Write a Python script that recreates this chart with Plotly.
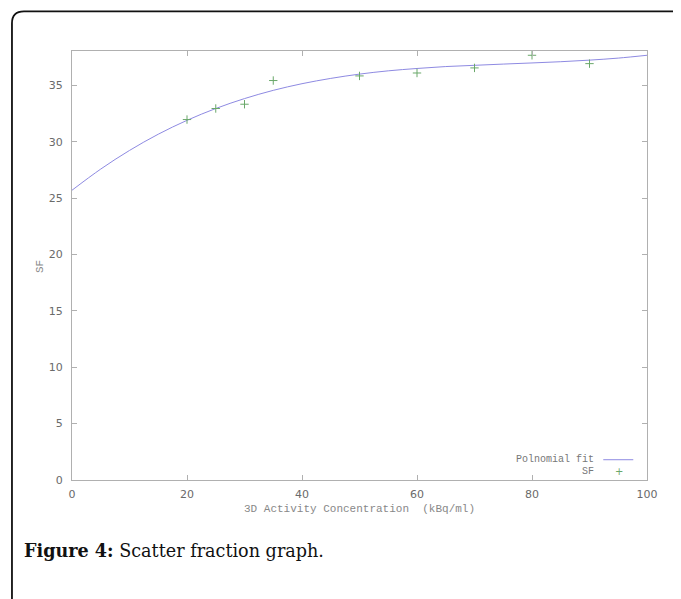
import plotly.graph_objects as go

# ---- data ----
sf_x = [20, 25, 30, 35, 50, 60, 70, 80, 90]
sf_y = [31.97, 32.95, 33.33, 35.43, 35.84, 36.1, 36.55, 37.67, 36.93]

fit_x = [0, 5, 10, 15, 20, 25, 30, 35, 40, 45, 50, 55, 60, 65, 70, 75, 80, 85, 90, 95, 100]
fit_y = [25.7, 27.58, 29.23, 30.67, 31.9, 32.95, 33.83, 34.56, 35.15, 35.62, 36.0,
         36.29, 36.5, 36.67, 36.78, 36.89, 36.99, 37.1, 37.24, 37.42, 37.67]

x_ticks = [0, 20, 40, 60, 80, 100]
y_ticks = [0, 5, 10, 15, 20, 25, 30, 35]

x_title = "3D Activity Concentration  (kBq/ml)"
y_title = "SF"
legend_fit = "Polnomial fit"
legend_sf = "SF"
caption_bold = "Figure 4:"
caption_rest = " Scatter fraction graph."

OFF = 8  # default page body margin
W, H = 681 - OFF, 599 - OFF
L, T, R, B = 72, 50.7, 646.7, 480.3  # plot area in window pixels

def px(x):
    return (x - L) / (R - L)

def py(y):
    return (B - y) / (B - T)

LINE_C = "#8e8ae2"
PT_C = "#6aa86a"
AX_C = "#b0b0b0"
TXT_C = "#6a6a6a"

fig = go.Figure()
fig.add_trace(go.Scatter(x=fit_x, y=fit_y, mode="lines", line=dict(color=LINE_C, width=1, shape="spline"),
                         name=legend_fit, showlegend=False))
fig.add_trace(go.Scatter(x=sf_x, y=sf_y, mode="markers",
                         marker=dict(symbol="cross-thin", size=6, line=dict(color=PT_C, width=1), color=PT_C),
                         name=legend_sf, showlegend=False))

axis_common = dict(showgrid=False, zeroline=False, showline=True, linecolor=AX_C, linewidth=1.3,
                   mirror="ticks", ticks="inside", ticklen=5, tickcolor=AX_C,
                   tickfont=dict(family="DejaVu Sans", size=11, color=TXT_C))

fig.update_layout(
    width=W, height=H,
    margin=dict(l=L - OFF, r=681 - R, t=T - OFF, b=599 - B, pad=0),
    paper_bgcolor="white", plot_bgcolor="white",
    xaxis=dict(range=[0, 100], tickvals=x_ticks, ticklabelstandoff=4, **axis_common),
    yaxis=dict(range=[0, 38.05], tickvals=y_ticks, ticklabelstandoff=6, **axis_common),
    showlegend=False,
)

mono = "Liberation Mono"
ann = []
ann.append(dict(x=0.5, y=py(509), xref="paper", yref="paper", text=x_title, showarrow=False,
                font=dict(family=mono, size=11, color="#888888"), xanchor="center", yanchor="middle"))
ann.append(dict(x=px(40), y=py(266), xref="paper", yref="paper", text=y_title, showarrow=False, textangle=-90,
                font=dict(family=mono, size=11, color="#888888"), xanchor="center", yanchor="middle"))
ann.append(dict(x=px(596), y=py(460), xref="paper", yref="paper", text=legend_fit, showarrow=False,
                font=dict(family=mono, size=10, color="#777777"), xanchor="right", yanchor="middle"))
ann.append(dict(x=px(596), y=py(472), xref="paper", yref="paper", text=legend_sf, showarrow=False,
                font=dict(family=mono, size=10, color="#777777"), xanchor="right", yanchor="middle"))
ann.append(dict(x=px(619), y=py(472), xref="paper", yref="paper", text="+", showarrow=False,
                font=dict(family="DejaVu Sans", size=10, color=PT_C), xanchor="center", yanchor="middle"))
ann.append(dict(x=px(22), y=py(551), xref="paper", yref="paper",
                text="<b>" + caption_bold + "</b>" + caption_rest, showarrow=False,
                font=dict(family="DejaVu Serif", size=17.6, color="#111111"), xanchor="left", yanchor="middle"))
fig.update_layout(annotations=ann)

shapes = []
shapes.append(dict(type="line", xref="paper", yref="paper", x0=px(603), x1=px(633), y0=py(460), y1=py(460),
                   line=dict(color=LINE_C, width=1)))
# outer rounded frame (left and top edges)
path = (f"M {px(12)},{py(620)} L {px(12)},{py(23)} Q {px(12)},{py(11)} {px(24)},{py(11)} "
        f"L {px(700)},{py(11)}")
shapes.append(dict(type="path", xref="paper", yref="paper", path=path, line=dict(color="#111111", width=1.8)))
fig.update_layout(shapes=shapes)

fig.write_html("out.html")
